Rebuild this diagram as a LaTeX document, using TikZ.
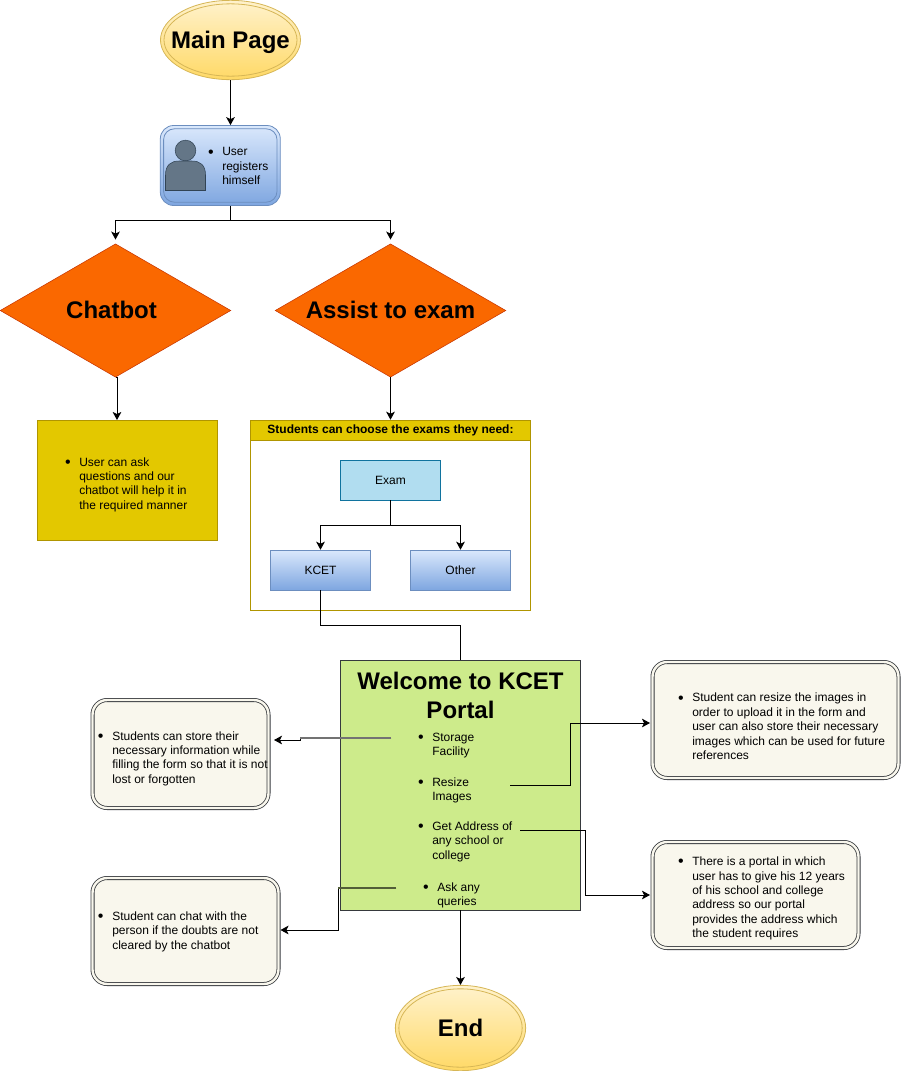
\documentclass[tikz,border=0pt]{standalone}
\usepackage{fontspec}
\setmainfont{Liberation Sans}
\usetikzlibrary{%
        arrows.meta,
        shapes.geometric
    }
\definecolor{goldline}{HTML}{D6B656}
\definecolor{goldtop}{HTML}{FFF2CC}
\definecolor{goldbottom}{HTML}{FFD966}
\definecolor{blueline}{HTML}{6C8EBF}
\definecolor{bluetop}{HTML}{DAE8FC}
\definecolor{bluebottom}{HTML}{7EA6E0}
\definecolor{orangefill}{HTML}{FA6800}
\definecolor{orangeline}{HTML}{C73500}
\definecolor{yellowfill}{HTML}{E3C800}
\definecolor{yellowline}{HTML}{B09500}
\definecolor{examfill}{HTML}{B1DDF0}
\definecolor{examline}{HTML}{10739E}
\definecolor{portalfill}{HTML}{CDEB8B}
\definecolor{darkline}{HTML}{36393D}
\definecolor{notefill}{HTML}{F9F7ED}
\definecolor{personfill}{HTML}{647687}
\definecolor{personline}{HTML}{314354}
\newcommand{\bul}{\leavevmode\llap{\raisebox{-1pt}{\fontsize{12}{12}\selectfont\textbullet}\hspace{6.5pt}}}
\tikzset{
    small-text/.style={font=\fontsize{9}{10.8}\selectfont},
    big-text/.style={font=\fontsize{18}{21.6}\selectfont\bfseries},
    twin-line/.style={line width=0.6pt, double distance=1.8pt, outer sep=1.5pt},
    terminal/.style={draw=goldline, ellipse, inner sep=0pt, line width=0.6pt,
        top color=goldtop, bottom color=goldbottom},
    terminal-ring/.style={draw=goldline, ellipse, inner sep=0pt, line width=0.6pt},
    decision/.style={draw=orangeline, fill=orangefill, diamond, inner sep=0pt,
        minimum width=173pt, minimum height=100pt},
    notebox/.style={draw=darkline, fill=notefill, rounded corners=11pt,
        double=notefill, twin-line},
    bluebox/.style={draw=blueline, top color=bluetop, bottom color=bluebottom,
        minimum width=75pt, minimum height=30pt, small-text},
    itemtext/.style={anchor=west, align=left, inner sep=0pt, small-text},
    flow/.style={-{Stealth[length=6pt, width=6.5pt, inset=1.5pt]}, line width=0.75pt},
    plain/.style={line width=0.75pt},
    short-tip/.style={flow, shorten >=3pt},
    faded/.style={line width=1.2pt, draw=#1}
}

\begin{document}
\begin{tikzpicture}[x=0.75pt, y=-0.75pt]
    \useasboundingbox (0, 0) rectangle (901, 1071);

    \node[terminal, minimum width=105pt, minimum height=59.5pt,
        label={[big-text, yshift=-1.5pt]center:Main Page}] (main-page) at (230.5, 40) {};
    \node[terminal-ring, minimum width=99.75pt, minimum height=54.25pt] (main-page-ring) at (main-page) {};
    \node[draw=blueline, top color=bluetop, bottom color=bluebottom, rounded corners=10pt,
        line width=0.6pt, minimum width=90pt, minimum height=60pt] (user-box) at (220.3, 165.5) {};
    \node[draw=blueline, rounded corners=8pt, line width=0.6pt, minimum width=85pt,
        minimum height=55pt] (user-box-ring) at (user-box) {};
    \node[circle, draw=personline, fill=personfill, inner sep=0pt, minimum size=15.5pt] (user-head) at (185.5, 150.5) {};
    \draw[draw=personline, fill=personfill] (165.5, 190.5) -- (165.5, 175)
        .. controls (165.5, 165) and (171, 161) .. (179, 161) -- (192, 161)
        .. controls (200, 161) and (205.5, 165) .. (205.5, 175) -- (205.5, 190.5) -- cycle;
    \node[itemtext] (user-text) at (222, 166) {\bul User\\registers\\himself};

    \node[decision, label={[big-text, xshift=-3pt, yshift=0.5pt]center:Chatbot}] (chatbot) at (115.5, 310.5) {};
    \node[decision, label={[big-text, yshift=0.5pt]center:Assist to exam}] (assist) at (390.5, 310.5) {};

    \node[draw=yellowline, fill=yellowfill, minimum width=135pt, minimum height=90pt] (chat-box) at (127.5, 480.5) {};
    \node[itemtext] (chat-text) at (79, 484.5) {\bul User can ask\\questions and our\\chatbot will help it in\\the required manner};

    \node[draw=yellowline, fill=white, minimum width=210pt, minimum height=142.5pt] (exam-group) at (390.5, 515) {};
    \node[draw=yellowline, fill=yellowfill, minimum width=210pt, minimum height=15pt,
        small-text, inner sep=0pt] (exam-title) at (390.5, 430) {};
    \node[small-text, inner sep=0pt] (exam-title-text) at (390.5, 430.8) {\textbf{Students can choose the exams they need:}};
    \node[draw=examline, fill=examfill, minimum width=75pt, minimum height=30pt, small-text] (exam) at (390.5, 480) {Exam};
    \node[bluebox] (kcet) at (320.5, 570) {KCET};
    \node[bluebox] (other) at (460.5, 570) {Other};

    \node[draw=darkline, fill=portalfill, minimum width=180pt, minimum height=187.5pt] (portal) at (460.5, 785) {};
    \node[big-text, align=center, inner sep=0pt] (portal-title) at (460.5, 695.5) {Welcome to KCET\\Portal};
    \node[itemtext] (storage-item) at (432, 745.5) {\bul Storage\\Facility};
    \node[itemtext] (resize-item) at (432, 790.5) {\bul Resize\\Images};
    \node[itemtext] (address-item) at (432, 841.5) {\bul Get Address of\\any school or\\college};
    \node[itemtext] (queries-item) at (437, 895.5) {\bul Ask any\\queries};

    \node[notebox, minimum width=132pt, minimum height=81pt] (store-note) at (180.5, 754) {};
    \node[itemtext] (store-text) at (112, 758.5) {\bul Students can store their\\necessary information while\\filling the form so that it is not\\lost or forgotten};
    \node[notebox, minimum width=139.5pt, minimum height=79.5pt] (chat-note) at (185.5, 931) {};
    \node[itemtext] (chat-note-text) at (112, 931.5) {\bul Student can chat with the\\person if the doubts are not\\cleared by the chatbot};
    \node[notebox, minimum width=184.5pt, minimum height=87pt] (resize-note) at (775.5, 720) {};
    \node[itemtext] (resize-text) at (692, 726.5) {\bul Student can resize the images in\\order to upload it in the form and\\user can also store their necessary\\images which can be used for future\\references};
    \node[notebox, minimum width=154.5pt, minimum height=79.5pt] (address-note) at (755.5, 895) {};
    \node[itemtext] (address-text) at (692, 898.5) {\bul There is a portal in which\\user has to give his 12 years\\of his school and college\\address so our portal\\provides the address which\\the student requires};

    \node[terminal, minimum width=97.75pt, minimum height=64pt,
        label={[big-text]center:End}] (end) at (460.5, 1028) {};
    \node[terminal-ring, minimum width=92.5pt, minimum height=58.75pt] (end-ring) at (end) {};

    \coordinate (chat-in) at (117, 420);
    \coordinate (store-out) at (391, 738);
    \coordinate (store-in) at (270, 740);
    \coordinate (resize-out) at (510, 785.5);
    \coordinate (resize-in) at (650, 723);
    \coordinate (address-out) at (520, 830);
    \coordinate (address-in) at (650, 895);
    \coordinate (queries-out) at (396, 888);
    \coordinate (queries-in) at (280.5, 930);

    \draw[flow] (main-page) -- (user-box.north -| main-page);
    \draw[plain] (user-box.south -| main-page) -- ++(0, 15) coordinate (user-split);
    \draw[short-tip] (user-split) -| (chatbot);
    \draw[short-tip] (user-split) -| (assist);
    \draw[flow] (chatbot.south) -- ++(1.5, 0) -- (chat-in);
    \draw[flow] (assist) -- (exam-title);
    \draw[plain] (exam) -- ++(0, 45) coordinate (exam-split);
    \draw[flow] (exam-split) -| (kcet);
    \draw[flow] (exam-split) -| (other);
    \draw[plain] (kcet) -- ++(0, 55) -| (portal);
    \draw[flow] (portal) -- (end);
    \draw[short-tip] (store-out) -- ++(-91, 0) |- (store-in);
    \draw[faded=black!55] (store-out) -- ++(-91, 0);
    \draw[flow] (resize-out) -- ++(60, 0) |- (resize-in);
    \draw[flow] (address-out) -- ++(65, 0) |- (address-in);
    \draw[flow] (queries-out) -- ++(-58, 0) |- (queries-in);
    \draw[faded=black!60!portalfill] (queries-out) -- ++(-58, 0);
\end{tikzpicture}
\end{document}
